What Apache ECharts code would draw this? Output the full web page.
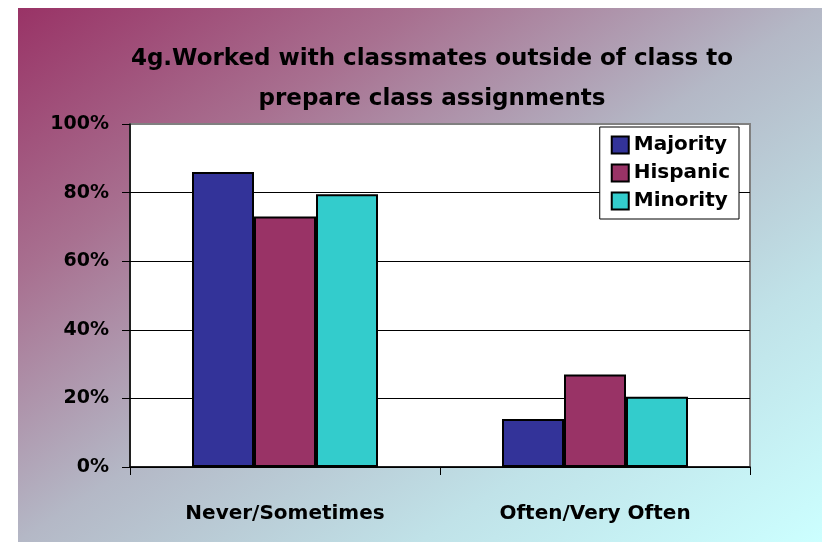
<!DOCTYPE html>
<html>
<head>
<meta charset="utf-8">
<script src="https://cdn.jsdelivr.net/npm/echarts@6/dist/echarts.min.js"></script>
<style>
  html, body { margin: 0; padding: 0; background: #fff; }
  #main { width: 822px; height: 542px; }
</style>
</head>
<body>
<div id="main"></div>
<script>
const categories = ['Never/Sometimes', 'Often/Very Often'];
const majority = [86, 14];
const hispanic = [73, 27];
const minority = [79.5, 20.5];
const yTicks = [0, 20, 40, 60, 80, 100];

const font = 'DejaVu Sans';
const chart = echarts.init(document.getElementById('main'));

const bar = (name, data, color) => ({
  name: name,
  type: 'bar',
  data: data,
  barGap: '0%',
  barCategoryGap: '40%',
  itemStyle: { color: color, borderColor: '#000', borderWidth: 2 }
});

chart.setOption({
  animation: false,
  graphic: [{
    type: 'rect',
    z: -10,
    silent: true,
    shape: { x: 18, y: 8, width: 804, height: 534 },
    style: {
      // direction chosen so that bottom-left and top-right corners share the mid colour
      fill: new echarts.graphic.LinearGradient(0, 0, 0.612, 1.388, [
        { offset: 0, color: '#993366' },
        { offset: 0.25, color: '#a87090' },
        { offset: 0.5, color: '#b4b8c6' },
        { offset: 0.75, color: '#c0e2e8' },
        { offset: 1, color: '#ccffff' }
      ])
    }
  }],
  title: {
    text: '4g.Worked with classmates outside of class to\nprepare class assignments',
    left: 427,
    textAlign: 'center',
    top: 34,
    textStyle: { fontFamily: font, fontWeight: 'bold', fontSize: 23, lineHeight: 40, color: '#000' }
  },
  legend: {
    orient: 'vertical',
    right: 83,
    top: 127,
    itemWidth: 17,
    itemHeight: 17,
    itemGap: 8,
    padding: [8, 9, 8, 11],
    backgroundColor: '#fff',
    borderColor: '#000',
    borderWidth: 1,
    icon: 'rect',
    textStyle: { fontFamily: font, fontWeight: 'bold', fontSize: 20, color: '#000' },
    itemStyle: { borderColor: '#000', borderWidth: 2 }
  },
  grid: {
    left: 130, top: 124, width: 620, height: 343,
    show: true, backgroundColor: '#fff', borderColor: '#808080', borderWidth: 2
  },
  xAxis: {
    type: 'category',
    data: categories,
    axisLine: { lineStyle: { color: '#000', width: 1.5 } },
    axisTick: { show: true, length: 8, lineStyle: { color: '#000' } },
    axisLabel: { margin: 37, fontFamily: font, fontWeight: 'bold', fontSize: 20, color: '#000' }
  },
  yAxis: {
    type: 'value',
    min: yTicks[0],
    max: yTicks[yTicks.length - 1],
    interval: 20,
    axisLine: { show: true, lineStyle: { color: '#000', width: 1.5 } },
    axisTick: { show: true, length: 8, lineStyle: { color: '#000' } },
    splitLine: { lineStyle: { color: ['#000', '#000', '#000', '#000', '#000', '#808080'], width: 1 } },
    axisLabel: { margin: 21, fontFamily: font, fontWeight: 'bold', fontSize: 19, color: '#000', formatter: '{value}%' }
  },
  series: [
    bar('Majority', majority, '#333399'),
    bar('Hispanic', hispanic, '#993366'),
    bar('Minority', minority, '#33cccc')
  ]
});
</script>
</body>
</html>
